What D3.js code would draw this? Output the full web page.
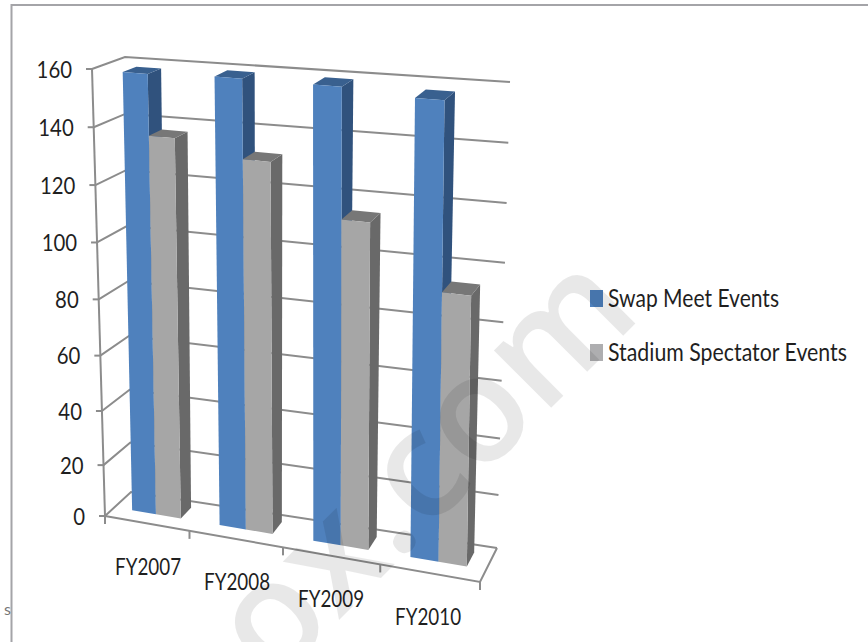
<!DOCTYPE html>
<html><head><meta charset="utf-8">
<script src="https://cdn.jsdelivr.net/npm/d3@7"></script>
<style>html,body{margin:0;padding:0;background:#fff}svg{display:block}text{font-family:Lato,"Open Sans",sans-serif;fill:#1f1f1f}</style>
</head><body><svg id="c" width="868" height="642"></svg>
<script>
const categories = ["FY2007","FY2008","FY2009","FY2010"];
const swapMeet = [158, 159, 159, 157.3];
const stadium = [136.7, 131.7, 114.7, 94];
const seriesNames = ["Swap Meet Events","Stadium Spectator Events"];
const valueTicks = [0,20,40,60,80,100,120,140,160];

const svg=d3.select("#c");
// corner scales of the 3D box: front-left, back-left, back-right, front-right edges
const vT=d3.scalePow().exponent(1.045).domain([0,160]).range([0,1]);
const uT=d3.scalePow().exponent(1.075).domain([0,4]).range([0,1]);
const edgeX={FL:[105,92],BL:[131,125],BR:[497,510],FR:[480,486]};
const edgeY={FL:[516,69],BL:[492,57],BR:[548,82],FR:[582,104]};
function proj(k,v,w){
  const t=vT(v),u=uT(k);
  const e=(a)=>a[0]+(a[1]-a[0])*t;
  const fx=e(edgeX.FL)+(e(edgeX.FR)-e(edgeX.FL))*u, bx=e(edgeX.BL)+(e(edgeX.BR)-e(edgeX.BL))*u;
  const fy=e(edgeY.FL)+(e(edgeY.FR)-e(edgeY.FL))*u, by=e(edgeY.BL)+(e(edgeY.BR)-e(edgeY.BL))*u;
  return [fx+(bx-fx)*w,fy+(by-fy)*w];
}
const band=d3.scaleBand().domain(categories).range([0,4]).paddingInner(.43).paddingOuter(.215).align(.55);
const sub=d3.scaleBand().domain(seriesNames).range([0,band.bandwidth()]);
const line=d3.line();
const poly=p=>line(p)+"Z";

// frame
svg.append("path").attr("d",line([[11.5,642],[11.5,5],[868,5]])).attr("fill","none").attr("stroke","#a4a4a8").attr("stroke-width",2);

// walls / grid
const g=svg.append("g").attr("fill","none").attr("stroke","#8c8c8c").attr("stroke-width",2);
valueTicks.forEach(v=>{
  const a=proj(0,v,0),b=proj(0,v,1),c=proj(4,v,1);
  g.append("path").attr("d",line([a,b,c]));
  g.append("path").attr("d",line([[a[0]-6,a[1]],a]));
});
g.append("path").attr("d",line([proj(0,0,0),proj(0,160,0)]));
g.append("path").attr("d",line([proj(0,0,0),proj(4,0,0),proj(4,0,1)]));
d3.range(0,5).forEach(k=>{const a=proj(k,0,0);g.append("path").attr("d",line([a,[a[0],a[1]+8]]));});

// bars
const colors={
 [seriesNames[0]]:{front:"#4f81bd",side:"#30527d",top:"#39608f"},
 [seriesNames[1]]:{front:"#a6a6a6",side:"#696969",top:"#777777"}};
const w1=.36,w2=.78;
const values={[seriesNames[0]]:swapMeet,[seriesNames[1]]:stadium};
const bars=svg.append("g");
categories.forEach((cat,i)=>{
  seriesNames.forEach(s=>{
    const k0=band(cat)+sub(s), k1=k0+sub.bandwidth();
    const v=values[s][i],c=colors[s];
    bars.append("path").attr("fill",c.side).attr("d",poly([proj(k1,0,w1),proj(k1,v,w1),proj(k1,v,w2),proj(k1,0,w2)]));
    bars.append("path").attr("fill",c.top).attr("d",poly([proj(k0,v,w1),proj(k1,v,w1),proj(k1,v,w2),proj(k0,v,w2)]));
    bars.append("path").attr("fill",c.front).attr("d",poly([proj(k0,0,w1),proj(k1,0,w1),proj(k1,v,w1),proj(k0,v,w1)]));
  });
});

// value labels
valueTicks.forEach(v=>{
  const a=proj(0,v,0), n=String(v).length;
  svg.append("text").attr("x",a[0]-20).attr("y",a[1]+8.5).attr("text-anchor","end").attr("font-size",24)
    .attr("textLength",n*11.8).attr("lengthAdjust","spacingAndGlyphs").text(v);
});
// category labels
categories.forEach((cat,i)=>{
  const a=proj(i+.5,0,0);
  svg.append("text").attr("x",a[0]+3-i*1.6).attr("y",a[1]+51.5).attr("text-anchor","middle").attr("font-size",24)
    .attr("textLength",66).attr("lengthAdjust","spacingAndGlyphs").text(cat);
});
// legend
const legY=d3.scalePoint().domain(seriesNames).range([298,352]);
const legLen={[seriesNames[0]]:171,[seriesNames[1]]:239};
seriesNames.forEach(s=>{
  svg.append("rect").attr("x",590).attr("y",legY(s)-8).attr("width",13).attr("height",17).attr("fill",s===seriesNames[0]?colors[s].front:"#aeaeb0");
  svg.append("text").attr("transform",`translate(608,${legY(s)+9}) scale(1,1.09)`).attr("font-size",23).attr("textLength",legLen[s]).attr("lengthAdjust","spacingAndGlyphs").text(s);
});
// stray fragment at left edge and watermark
svg.append("text").attr("x",4).attr("y",615).attr("font-size",16).style("fill","#777").text("s");
svg.append("text").attr("transform","translate(273,686) rotate(-45)").attr("font-size",150).attr("font-weight",600)
  .style("font-family","'Open Sans'").style("fill","#000").style("fill-opacity",.09).text("ox.com");
</script></body></html>
